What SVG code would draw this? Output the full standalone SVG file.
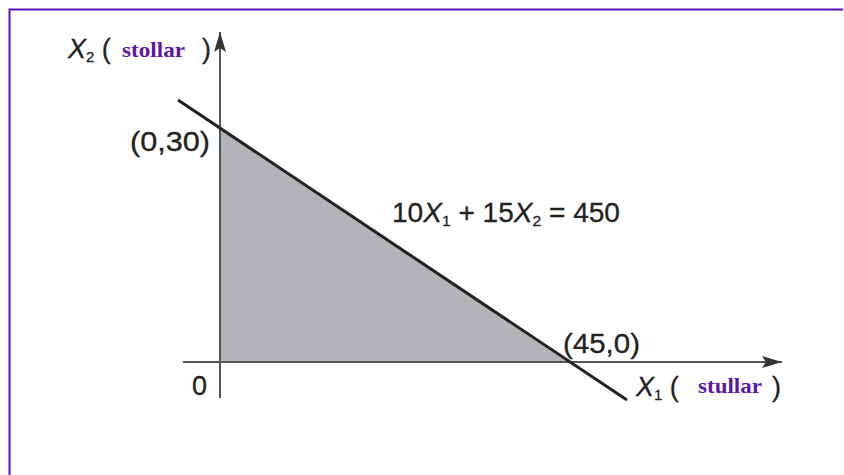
<svg xmlns="http://www.w3.org/2000/svg" width="844" height="475" viewBox="0 0 844 475">
<style>
.t{font-family:"Liberation Sans",Arial,sans-serif;font-size:27px;fill:#222;stroke:#222;stroke-width:0.3}
.i{font-style:italic}
.s{font-size:15px}
.p{font-family:"Liberation Serif","Times New Roman",serif;font-weight:bold;font-size:22px;fill:#5a17a8}
</style>
<defs>
<marker id="ah" viewBox="0 0 20 12" refX="20" refY="6" markerWidth="20" markerHeight="12" markerUnits="userSpaceOnUse" orient="auto">
<path d="M0,0 L20,6 L0,12 L4,6 Z" fill="#333"/>
</marker>
</defs>
<rect width="844" height="475" fill="#fff"/>
<path d="M9.5,475 V9.5 H843" fill="none" stroke="#5a10c0" stroke-width="2"/>
<g id="region"><polygon points="220,127 220,362 567,362" fill="#b3b4b8"/></g>
<g id="connectors">
<line x1="220" y1="398" x2="220" y2="32" stroke="#555" stroke-width="2" marker-end="url(#ah)"/>
<line x1="183" y1="362" x2="782" y2="362" stroke="#555" stroke-width="2" marker-end="url(#ah)"/>
<line x1="178" y1="100" x2="627" y2="400" stroke="#222" stroke-width="3"/>
</g>
<g id="labels">
<text class="t" x="68" y="58"><tspan class="i">X</tspan><tspan class="s" dy="4">2</tspan><tspan dy="-4"> (</tspan></text>
<text class="p" x="122" y="57" textLength="63" lengthAdjust="spacingAndGlyphs">stollar</text>
<text class="t" x="202" y="58">)</text>
<text class="t" x="130" y="151" textLength="80" lengthAdjust="spacingAndGlyphs">(0,30)</text>
<text class="t" x="392" y="222" textLength="228" lengthAdjust="spacingAndGlyphs">10<tspan class="i">X</tspan><tspan class="s" dy="4">1</tspan><tspan dy="-4"> + 15</tspan><tspan class="i">X</tspan><tspan class="s" dy="4">2</tspan><tspan dy="-4"> = 450</tspan></text>
<text class="t" x="563" y="353" textLength="77" lengthAdjust="spacingAndGlyphs">(45,0)</text>
<text class="t" x="192" y="395">0</text>
<text class="t" x="636" y="396"><tspan class="i">X</tspan><tspan class="s" dy="4">1</tspan><tspan dy="-4"> (</tspan></text>
<text class="p" x="698" y="393" textLength="64" lengthAdjust="spacingAndGlyphs">stullar</text>
<text class="t" x="772" y="396">)</text>
</g>
</svg>
